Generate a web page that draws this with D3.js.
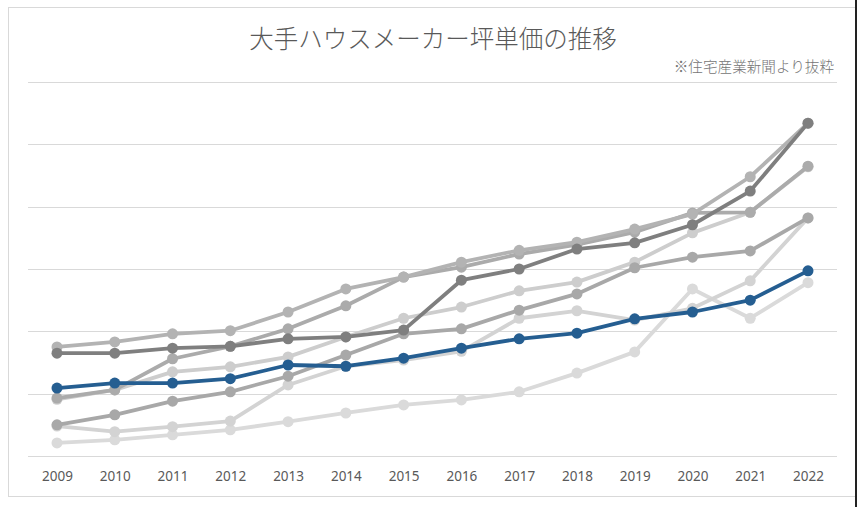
<!DOCTYPE html>
<html><head><meta charset="utf-8">
<script src="https://cdn.jsdelivr.net/npm/d3@7"></script>
<style>html,body{margin:0;padding:0;background:#fff;}svg{display:block;}</style>
</head><body>
<svg id="c" width="865" height="507"></svg>
<script>
const title = "大手ハウスメーカー坪単価の推移";
const source = "※住宅産業新聞より抜粋";
const years = ["2009","2010","2011","2012","2013","2014","2015","2016","2017","2018","2019","2020","2021","2022"];
const yTicks = [40,50,60,70,80,90,100];
// series values (estimated, arbitrary units; no y labels in the original)
const seriesF = [42.1,42.6,43.4,44.2,45.5,46.9,48.2,49.0,50.3,53.3,56.7,66.8,62.1,67.8];
const seriesG = [44.8,43.9,44.7,45.6,51.4,54.4,55.4,56.8,62.1,63.3,61.8,63.7,68.1,78.2];
const seriesD = [49.1,50.6,53.5,54.3,55.9,59.1,62.1,63.9,66.5,67.9,71.1,75.8,79.1,86.4];
const seriesE = [45.0,46.6,48.8,50.3,52.8,56.2,59.6,60.4,63.4,66.0,70.2,71.9,72.9,78.2];
const seriesC = [49.3,50.6,55.6,57.6,60.4,64.1,68.7,70.3,72.4,73.9,75.9,79.0,79.1,86.5];
const seriesA = [57.5,58.3,59.6,60.1,63.1,66.8,68.7,71.1,73.0,74.3,76.4,78.8,84.8,93.4];
const seriesB = [56.5,56.5,57.3,57.6,58.8,59.1,60.2,68.2,70.0,73.2,74.2,77.1,82.5,93.4];
const seriesBlue = [50.9,51.7,51.7,52.4,54.6,54.4,55.7,57.3,58.8,59.7,62.0,63.1,65.0,69.7];

const series = [
  {v: seriesF, c: "#dadada"},
  {v: seriesG, c: "#d3d3d3"},
  {v: seriesD, c: "#cdcdcd"},
  {v: seriesE, c: "#a8a8a8"},
  {v: seriesC, c: "#ababab"},
  {v: seriesA, c: "#b3b3b3"},
  {v: seriesB, c: "#7f7f7f"},
  {v: seriesBlue, c: "#255e91"}
];

const svg = d3.select("#c");
// chart border
svg.append("rect").attr("x",8.5).attr("y",7.5).attr("width",847).attr("height",489)
  .attr("fill","#fff").attr("stroke","#d9d9d9").attr("stroke-width",1);
svg.append("line").attr("x1",856).attr("x2",856).attr("y1",0).attr("y2",507)
  .attr("stroke","#222").attr("stroke-width",2);

const x = d3.scalePoint().domain(years).range([57,808]);
const y = d3.scaleLinear().domain([40,100]).range([456,82]);
const left = 28, right = 837;

// gridlines
svg.append("g").selectAll("line").data(yTicks).join("line")
  .attr("x1",left).attr("x2",right)
  .attr("y1",d=>Math.round(y(d))+0.5).attr("y2",d=>Math.round(y(d))+0.5)
  .attr("stroke","#d9d9d9").attr("stroke-width",1);

// x axis labels
const xAxis = d3.axisBottom(x).tickSize(0).tickPadding(0);
const gx = svg.append("g").attr("transform","translate(0,471)").call(xAxis);
gx.select(".domain").remove();
gx.selectAll("text").attr("font-family","'Noto Sans', 'DejaVu Sans', sans-serif")
  .attr("font-size","13.5px").attr("fill","#595959");

// lines
const line = d3.line().x((d,i)=>x(years[i])).y(d=>y(d));
series.forEach(s=>{
  const g = svg.append("g");
  g.append("path").attr("d",line(s.v)).attr("fill","none")
    .attr("stroke",s.c).attr("stroke-width",3.8).attr("stroke-linejoin","round");
  g.selectAll("circle").data(s.v).join("circle")
    .attr("cx",(d,i)=>x(years[i])).attr("cy",d=>y(d)).attr("r",5.5)
    .attr("fill",s.c);
});

// title
svg.append("text").attr("x",433).attr("y",48).attr("text-anchor","middle")
  .attr("font-family","'Noto Sans CJK JP', sans-serif").attr("font-weight",300)
  .attr("font-size","24.5px").attr("fill","#595959").text(title);
svg.append("text").attr("x",834).attr("y",72).attr("text-anchor","end")
  .attr("font-family","'Noto Sans CJK JP', sans-serif").attr("font-weight",300)
  .attr("font-size","14.6px").attr("fill","#757575").text(source);
</script>
</body></html>
